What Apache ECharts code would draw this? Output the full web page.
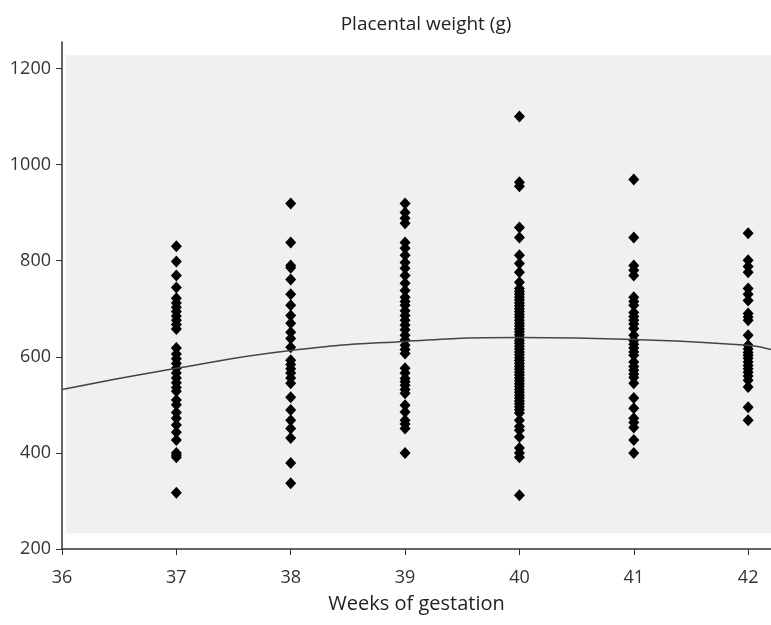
<!DOCTYPE html>
<html>
<head>
<meta charset="utf-8">
<script src="https://cdn.jsdelivr.net/npm/echarts@6/dist/echarts.min.js"></script>
<style>
  html, body { margin: 0; padding: 0; background: #fff; }
  #chart { width: 771px; height: 625px; }
</style>
</head>
<body>
<div id="chart"></div>
<script>
// placental weight (g) per week of gestation
var weeks = [37, 38, 39, 40, 41, 42]
var w37 = [830, 798, 769, 744, 722, 712, 703, 694, 685, 676, 667, 658, 618, 606, 596, 586, 576, 566, 556, 546, 536, 528, 510, 500, 484, 472, 458, 443, 427, 400, 395, 391, 317]
var w38 = [919, 838, 790, 785, 761, 730, 707, 686, 670, 651, 638, 620, 593, 584, 575, 566, 556, 545, 516, 489, 468, 451, 431, 379, 337]
var w39 = [919, 900, 888, 878, 838, 826, 811, 796, 784, 769, 753, 738, 724, 715, 707, 696, 686, 676, 666, 656, 645, 635, 624, 615, 607, 576, 566, 555, 548, 541, 532, 524, 499, 485, 468, 460, 451, 400]
var w40 = [1100, 963, 955, 869, 848, 811, 794, 776, 755, 742, 736, 730, 724, 718, 712, 706, 700, 694, 688, 682, 676, 670, 664, 658, 652, 646, 640, 634, 628, 622, 616, 610, 604, 598, 592, 586, 580, 574, 568, 562, 556, 550, 544, 538, 532, 526, 520, 514, 508, 502, 496, 490, 483, 468, 455, 447, 433, 410, 400, 391, 312]
var w41 = [969, 848, 790, 780, 769, 724, 715, 707, 692, 684, 676, 668, 659, 645, 634, 626, 618, 610, 603, 589, 580, 572, 564, 557, 545, 514, 493, 472, 463, 453, 427, 400]
var w42 = [857, 801, 788, 776, 742, 730, 717, 690, 683, 676, 645, 624, 616, 609, 603, 597, 589, 582, 575, 568, 560, 551, 537, 495, 468]
var groups = [w37, w38, w39, w40, w41, w42]

// fitted curve
var fitX = [36, 37, 38, 39, 40, 41, 42, 42.2]
var fitY = [532, 576, 613, 632, 640, 636, 624, 615]

var yTicks = [200, 400, 600, 800, 1000, 1200]
var xTicks = [36, 37, 38, 39, 40, 41, 42]

var points = []
groups.forEach(function (g, i) {
  g.forEach(function (v) { points.push([weeks[i], v]) })
})
var curve = fitX.map(function (x, i) { return [x, fitY[i]] })

var chart = echarts.init(document.getElementById('chart'))
var font = '"Open Sans", "DejaVu Sans", sans-serif'
chart.setOption({
  animation: false,
  textStyle: { fontFamily: font },
  title: {
    text: 'Placental weight (g)',
    left: 421, top: 10, textAlign: 'center',
    textStyle: { fontSize: 19, fontWeight: 'normal', color: '#222', fontFamily: font }
  },
  grid: { left: 62, right: 0, top: 42, bottom: 76 },
  xAxis: {
    type: 'value', min: 36, max: 42.2,
    name: 'Weeks of gestation', nameLocation: 'middle', nameGap: 45,
    nameTextStyle: { fontSize: 20, color: '#222' },
    axisLine: { lineStyle: { color: '#333', width: 1.5 } },
    axisTick: { length: 6, customValues: xTicks, lineStyle: { color: '#333' } },
    axisLabel: {
      customValues: xTicks, fontSize: 18, color: '#333', margin: 20,
      formatter: function (v) { return String(v) }
    },
    splitLine: { show: false }
  },
  yAxis: {
    type: 'value', min: 200, max: 1255,
    axisLine: { show: true, lineStyle: { color: '#333', width: 1.5 } },
    axisTick: { show: true, length: 6, customValues: yTicks, lineStyle: { color: '#333' } },
    axisLabel: {
      customValues: yTicks, fontSize: 18, color: '#333', margin: 11,
      formatter: function (v) { return String(v) }
    },
    splitLine: { show: false }
  },
  series: [
    {
      type: 'scatter',
      symbol: 'diamond',
      symbolSize: [11, 12],
      itemStyle: { color: '#000', opacity: 1 },
      data: points,
      z: 3,
      markArea: {
        silent: true,
        itemStyle: { color: '#f0f0f0', opacity: 1 },
        data: [[{ coord: [36.035, 233] }, { coord: [42.2, 1228] }]]
      }
    },
    {
      type: 'line',
      smooth: 0.5,
      showSymbol: false,
      lineStyle: { color: '#444', width: 1.5 },
      data: curve,
      z: 4
    }
  ]
})
</script>
</body>
</html>
